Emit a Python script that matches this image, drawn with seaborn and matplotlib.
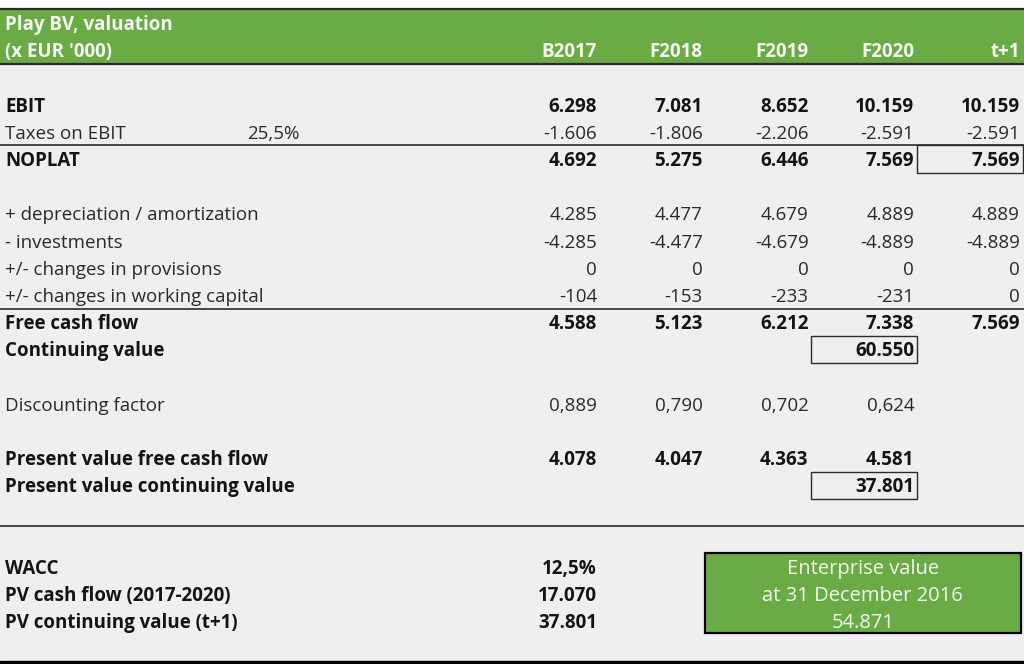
import matplotlib
matplotlib.use("Agg")
import matplotlib.pyplot as plt
from matplotlib.patches import Rectangle
import seaborn as sns

# table data (x EUR '000)
years = ["B2017", "F2018", "F2019", "F2020", "t+1"]
ebit = [6298, 7081, 8652, 10159, 10159]
taxes = [-1606, -1806, -2206, -2591, -2591]
noplat = [4692, 5275, 6446, 7569, 7569]
depreciation = [4285, 4477, 4679, 4889, 4889]
investments = [-4285, -4477, -4679, -4889, -4889]
provisions = [0, 0, 0, 0, 0]
working_capital = [-104, -153, -233, -231, 0]
free_cash_flow = [4588, 5123, 6212, 7338, 7569]
continuing_value = [None, None, None, 60550, None]
discount_factor = [0.889, 0.790, 0.702, 0.624, None]
pv_free_cash_flow = [4078, 4047, 4363, 4581, None]
pv_continuing_value = [None, None, None, 37801, None]
tax_rate = 0.255
wacc = 0.125
pv_cash_flow_total = 17070
pv_continuing_total = 37801
enterprise_value = 54871

GREEN = "#6aab46"
GREY_BG = "#efefef"
LINE = "#2b2b2b"
TXT = "#141414"

sns.set_theme(style="white")
plt.rcParams['font.family'] = ['Open Sans', 'DejaVu Sans']


def eur(v, dec=0):
    # european number format: 1.234 / 0,889
    if v is None:
        return ""
    if dec:
        return f"{v:.{dec}f}".replace(".", ",")
    return f"{v:,.0f}".replace(",", ".")


def pct(v):
    return f"{v*100:.1f}%".replace(".", ",")


# row index -> (label, values, bold, number decimals)
rows = [
    (3, "EBIT", ebit, True, 0),
    (4, "Taxes on EBIT", taxes, False, 0),
    (5, "NOPLAT", noplat, True, 0),
    (7, "+ depreciation / amortization", depreciation, False, 0),
    (8, "- investments", investments, False, 0),
    (9, "+/- changes in provisions", provisions, False, 0),
    (10, "+/- changes in working capital", working_capital, False, 0),
    (11, "Free cash flow", free_cash_flow, True, 0),
    (12, "Continuing value", continuing_value, True, 0),
    (14, "Discounting factor", discount_factor, False, 3),
    (16, "Present value free cash flow", pv_free_cash_flow, True, 0),
    (17, "Present value continuing value", pv_continuing_value, True, 0),
]
boxed = [(5, 4), (12, 3), (17, 3)]  # (row, column)

# geometry: x in pixels, y in row units
col_w = 105.75
last_right = 1022.5
col_right = [last_right - (len(years) - 1 - j) * col_w for j in range(len(years))]
pad = 2.5
label_x = 5
fs = 13.5
dy = 0.07  # nudge text slightly below row centre

fig = plt.figure(figsize=(10.24, 6.64), dpi=100)
fig.patch.set_facecolor("white")
ax = fig.add_axes([0, 0, 1, 1])
ax.set_xlim(0, 1024)
ax.set_ylim(23.566, -0.846)
ax.axis("off")

# backgrounds
ax.add_patch(Rectangle((0, -0.5), 1024, 2.0, color=GREEN, zorder=0))
ax.add_patch(Rectangle((0, 1.5), 1024, 22.0, color=GREY_BG, zorder=0))

# horizontal rules
ax.plot([0, 1024], [-0.5, -0.5], color=LINE, lw=1.6)
ax.plot([0, 1024], [1.5, 1.5], color=LINE, lw=1.6)
ax.plot([0, 1024], [4.5, 4.5], color=LINE, lw=1.2)
ax.plot([0, 1024], [10.5, 10.5], color=LINE, lw=1.2)
ax.plot([0, 1024], [18.5, 18.5], color=LINE, lw=1.2)
ax.plot([0, 1024], [23.5, 23.5], color="black", lw=2.4)

# header
hdr = dict(color="#f5f7f2", fontsize=fs, va="center", fontweight="bold")
ax.text(label_x, 0 + dy, "Play BV, valuation", ha="left", **hdr)
ax.text(label_x, 1 + dy, "(x EUR '000)", ha="left", **hdr)
for j, yr in enumerate(years):
    ax.text(col_right[j] - pad, 1 + dy, yr, ha="right", **hdr)

# body
for r, label, vals, bold, dec in rows:
    weight = "bold" if bold else "normal"
    color = TXT if bold else "#2a2a2a"
    ax.text(label_x, r + dy, label, ha="left", va="center", fontsize=fs,
            fontweight=weight, color=color)
    for j, v in enumerate(vals):
        ax.text(col_right[j] - pad, r + dy, eur(v, dec), ha="right", va="center",
                fontsize=fs, fontweight=weight, color=color)

ax.text(299, 4 + dy, pct(tax_rate), ha="right", va="center", fontsize=fs,
        color="#2a2a2a")

for r, c in boxed:
    ax.add_patch(Rectangle((col_right[c] - col_w, r - 0.5), col_w, 1.0,
                           fill=False, edgecolor=LINE, lw=1.0, zorder=3))

# summary block
summary = [(20, "WACC", pct(wacc)),
           (21, "PV cash flow (2017-2020)", eur(pv_cash_flow_total)),
           (22, "PV continuing value (t+1)", eur(pv_continuing_total))]
for r, label, val in summary:
    ax.text(label_x, r + dy, label, ha="left", va="center", fontsize=fs,
            fontweight="bold", color=TXT)
    ax.text(col_right[0] - pad, r + dy, val, ha="right", va="center", fontsize=fs,
            fontweight="bold", color=TXT)

ev_left = col_right[2] - col_w
ev_right = col_right[4] - 2
ax.add_patch(Rectangle((ev_left, 19.5), ev_right - ev_left, 2.93,
                       facecolor=GREEN, edgecolor="black", lw=1.6, zorder=3))
ev_x = (ev_left + ev_right) / 2
for r, txt in zip([20, 21, 22], ["Enterprise value", "at 31 December 2016",
                                 eur(enterprise_value)]):
    ax.text(ev_x, r + dy, txt, ha="center", va="center", fontsize=14.5,
            color="#f3f6ee", zorder=4)

fig.savefig("out.png", dpi=100)
